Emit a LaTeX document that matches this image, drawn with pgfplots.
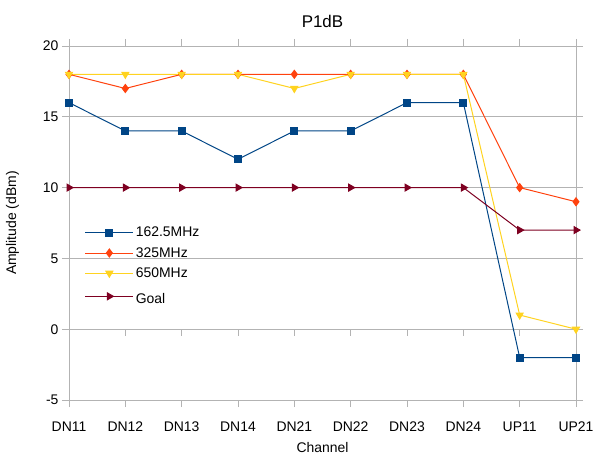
\documentclass[border=0pt]{standalone}
\usepackage{pgfplots}
\pgfplotsset{compat=1.18}
\usepackage{fontspec}
\setmainfont{Liberation Sans}
\definecolor{cblue}{HTML}{004586}
\definecolor{corange}{HTML}{FF420E}
\definecolor{cyellow}{HTML}{FFD320}
\definecolor{cmaroon}{HTML}{7E0021}
\definecolor{gridgray}{HTML}{B3B3B3}
\begin{document}
\begin{tikzpicture}
\path[use as bounding box] (-69bp,-59bp) rectangle (526bp,400bp);
\begin{axis}[
  at={(0,0)}, anchor=south west,
  scale only axis, width=507bp, height=354bp,
  xmin=0, xmax=9, ymin=-5, ymax=20,
  xtick={0,...,9},
  xticklabels={DN11,DN12,DN13,DN14,DN21,DN22,DN23,DN24,UP11,UP21},
  ytick={-5,0,5,10,15,20},
  ymajorgrids, grid style={draw=gridgray, line width=0.8pt},
  axis line style={draw=gridgray, line width=0.8pt},
  xtick style={draw=gridgray, line width=1pt},
  ytick style={draw=gridgray, line width=1pt},
  tick align=outside, major tick length=7bp,
  ticklabel style={font=\fontsize{14}{16}\selectfont, text=black},
  xticklabel style={yshift=-11bp},
  /pgf/number format/assume math mode=true,
  title={P1dB}, title style={font=\fontsize{17}{19}\selectfont, yshift=9bp},
  xlabel={Channel}, ylabel={Amplitude (dBm)},
  label style={font=\fontsize{14}{16}\selectfont},
  xlabel style={yshift=-4bp}, ylabel style={yshift=17bp},
  legend style={draw=none, fill=none, at={(0.025,0.50)}, anchor=north west,
    font=\fontsize{14}{16}\selectfont, row sep=5bp},
  legend cell align=left,
  legend image code/.code={
    \draw[mark repeat=2, mark phase=2, #1] plot coordinates {(0bp,0bp) (24bp,0bp) (48bp,0bp)};
  },
  every axis plot/.append style={line width=1pt},
  clip=false,
]
% small tick marks on the zero line
\draw[gridgray, line width=1pt] (axis cs:0,0) -- (axis cs:0,-0.5);
\draw[gridgray, line width=1pt] (axis cs:1,0) -- (axis cs:1,-0.5);
\draw[gridgray, line width=1pt] (axis cs:2,0) -- (axis cs:2,-0.5);
\draw[gridgray, line width=1pt] (axis cs:3,0) -- (axis cs:3,-0.5);
\draw[gridgray, line width=1pt] (axis cs:4,0) -- (axis cs:4,-0.5);
\draw[gridgray, line width=1pt] (axis cs:5,0) -- (axis cs:5,-0.5);
\draw[gridgray, line width=1pt] (axis cs:6,0) -- (axis cs:6,-0.5);
\draw[gridgray, line width=1pt] (axis cs:7,0) -- (axis cs:7,-0.5);
\draw[gridgray, line width=1pt] (axis cs:8,0) -- (axis cs:8,-0.5);
\draw[gridgray, line width=1pt] (axis cs:9,0) -- (axis cs:9,-0.5);
\addplot[cblue, mark=square*, mark size=3.5pt] coordinates {
  (0,16) (1,14) (2,14) (3,12) (4,14) (5,14) (6,16) (7,16) (8,-2) (9,-2)};
\addlegendentry{162.5MHz}
\addplot[corange, mark=diamond*, mark size=4pt] coordinates {
  (0,18) (1,17) (2,18) (3,18) (4,18) (5,18) (6,18) (7,18) (8,10) (9,9)};
\addlegendentry{325MHz}
\addplot[cyellow, mark=triangle*, mark size=4pt, mark options={rotate=180}] coordinates {
  (0,18) (1,18) (2,18) (3,18) (4,17) (5,18) (6,18) (7,18) (8,1) (9,0)};
\addlegendentry{650MHz}
\addplot[cmaroon, mark=triangle*, mark size=4pt, mark options={rotate=-90}] coordinates {
  (0,10) (1,10) (2,10) (3,10) (4,10) (5,10) (6,10) (7,10) (8,7) (9,7)};
\addlegendentry{\rule{0pt}{15.5bp}Goal}
\end{axis}
\end{tikzpicture}
\end{document}
